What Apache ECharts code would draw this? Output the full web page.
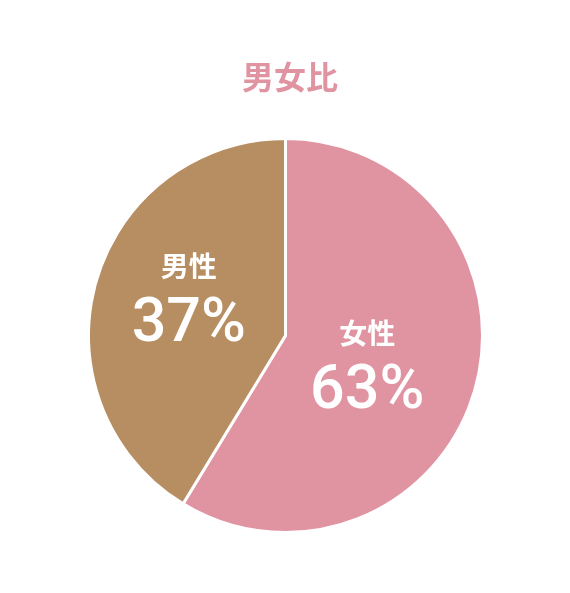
<!DOCTYPE html>
<html>
<head>
<meta charset="utf-8">
<script src="https://cdn.jsdelivr.net/npm/echarts@6/dist/echarts.min.js"></script>
<style>
html,body{margin:0;padding:0;background:#fff;}
#chart{width:570px;height:593px;}
</style>
</head>
<body>
<div id="chart"></div>
<script>
const titleText = '男女比';
const categories = ['女性', '男性'];
// slice sizes as drawn in the reference (angular share)
const sliceValues = [58.7, 41.3];
// percentages printed on the slices
const percentLabels = ['63%', '37%'];
const colors = ['#E094A2', '#B78D62'];
const labelOffsets = [[-16, 3], [1, -9]];

const chart = echarts.init(document.getElementById('chart'));
const FONT = '"Noto Sans CJK JP", "Noto Sans", sans-serif';
const NUMFONT = 'Roboto, "Noto Sans", sans-serif';
chart.setOption({
  animation: false,
  title: {
    text: titleText,
    left: 237,
    top: 56,
    textStyle: { color: '#E094A2', fontSize: 32, fontWeight: 'bold', fontFamily: FONT }
  },
  series: [{
    type: 'pie',
    center: [285.5, 335.5],
    radius: [0, 197],
    startAngle: 90,
    clockwise: true,
    silent: true,
    itemStyle: { borderColor: '#fff', borderWidth: 3 },
    label: {
      show: true,
      position: 'inside',
      fontFamily: FONT,
      formatter: function (p) {
        return '{n|' + p.name + '}\n{v|' + percentLabels[p.dataIndex] + '}';
      },
      rich: {
        n: { color: '#fff', fontSize: 28, fontWeight: 'bold', lineHeight: 54, fontFamily: FONT, align: 'center' },
        v: { color: '#fff', fontSize: 61, fontWeight: 500, lineHeight: 66, fontFamily: NUMFONT, align: 'center' }
      }
    },
    labelLine: { show: false },
    data: categories.map(function (c, i) {
      return {
        name: c,
        value: sliceValues[i],
        itemStyle: { color: colors[i] },
        label: { offset: labelOffsets[i] }
      };
    })
  }]
});
</script>
</body>
</html>
